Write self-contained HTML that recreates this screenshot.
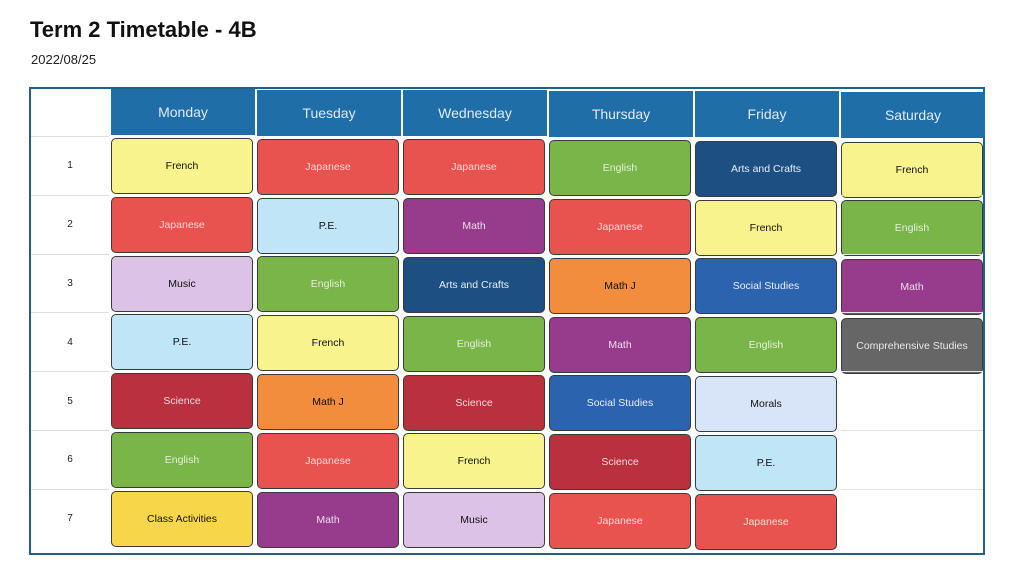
<!DOCTYPE html>
<html><head><meta charset="utf-8"><style>
body{margin:0;width:1024px;height:576px;background:#fff;position:relative;overflow:hidden;font-family:"Liberation Sans",sans-serif}
.a{position:absolute;box-sizing:border-box}
h1{position:absolute;left:30px;top:17px;margin:0;font-size:22px;font-weight:bold;color:#111}
.date{position:absolute;left:31px;top:52px;font-size:13px;color:#222}
.hd{background:#1f6ea8;color:#dfeaf4;font-size:14px;display:flex;align-items:center;justify-content:center}
.cell{border:1.5px solid #3a3a3a;border-radius:5px;display:flex;align-items:center;justify-content:center;font-size:10.5px}
.rl{font-size:10px;color:#222;display:flex;align-items:center;justify-content:center;border-top:1px solid #ddd}
</style></head><body>
<h1>Term 2 Timetable - 4B</h1>
<div class="date">2022/08/25</div>
<div class="a" style="left:29px;top:87px;width:956px;height:468px;border:2px solid #1f5f8a"></div>
<div id="g"></div>
<script>
const days=["Monday","Tuesday","Wednesday","Thursday","Friday","Saturday"];
const periods=["1","2","3","4","5","6","7"];
const schedule=[
["French","Japanese","Japanese","English","Arts and Crafts","French"],
["Japanese","P.E.","Math","Japanese","French","English"],
["Music","English","Arts and Crafts","Math J","Social Studies","Math"],
["P.E.","French","English","Math","English","Comprehensive Studies"],
["Science","Math J","Science","Social Studies","Morals",""],
["English","Japanese","French","Science","P.E.",""],
["Class Activities","Math","Music","Japanese","Japanese",""]];
const colors={"French":["#f8f38c","#111"],"Japanese":["#e9534f","#f6d8d6"],"English":["#7ab549","#e4f0d8"],"Arts and Crafts":["#1d4f82","#e6eef6"],"Math":["#973b8d","#eedcec"],"P.E.":["#bfe5f6","#111"],"Music":["#dcc2e5","#111"],"Math J":["#f28d3e","#111"],"Social Studies":["#2c63ae","#e6eef8"],"Science":["#b9303f","#f3d6da"],"Morals":["#d8e5f8","#111"],"Class Activities":["#f8d64a","#111"],"Comprehensive Studies":["#666666","#e8e8e8"]};
const g=document.getElementById('g');
const x0=111,cw=146,bw=142,y0=138,rh=58.8,bh=56;
function mk(cls,l,t,w,h,txt){const d=document.createElement('div');d.className='a '+cls;d.style.left=l+'px';d.style.top=t+'px';d.style.width=w+'px';d.style.height=h+'px';d.textContent=txt;g.appendChild(d);return d;}
days.forEach((d,i)=>{const e=mk('hd',x0+i*cw,89+i*0.6,bw+2,46,d);

});
periods.forEach((p,r)=>{const e=mk('rl',31,y0+r*rh-2,78,rh,p);


if(r>0){const ln=mk('',x0+5*cw,y0+r*rh-2,bw,1,'');ln.style.background='#e4e4e4';}
schedule[r].forEach((s,c)=>{if(!s)return;const col=colors[s];
const b=mk('cell',x0+c*cw,y0+r*rh+c*0.7,bw,bh,s);
b.style.background='linear-gradient('+col[0]+','+col[0]+')';b.style.color=col[1];

});});
</script>
</body></html>
